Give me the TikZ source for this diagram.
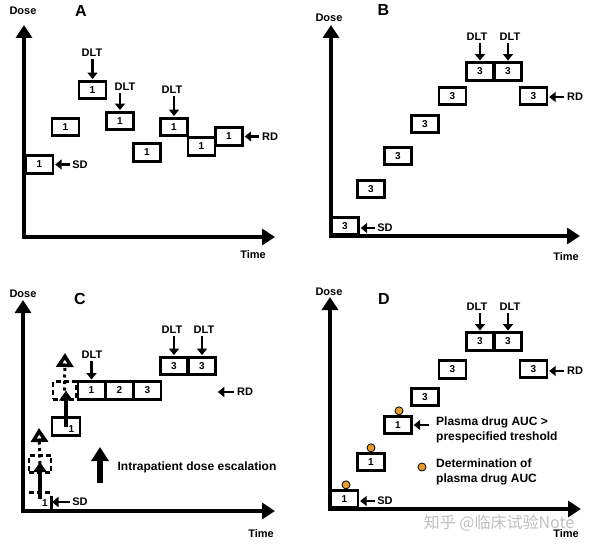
\documentclass[tikz,border=0pt]{standalone}
\usepackage{fontspec}
\setmainfont{Liberation Sans}
\newfontfamily\cjkfont{Noto Sans CJK SC}
\usetikzlibrary{arrows.meta}
\definecolor{aucorange}{HTML}{E99A2C}
\begin{document}
\begin{tikzpicture}[x=1pt,y=-1pt,
  bx/.style={draw, line width=2.8pt, minimum width=27pt, minimum height=17.5pt, inner sep=0pt, font=\fontsize{10}{10}\selectfont\bfseries},
  dbx/.style={bx, dash pattern=on 5pt off 3pt},
  ebx/.style={minimum width=22pt, minimum height=17.5pt, inner sep=0pt},
  lbl/.style={font=\fontsize{11}{12}\selectfont\bfseries, inner sep=1pt},
  panel/.style={font=\fontsize{16}{16}\selectfont\bfseries, inner sep=1pt},
  legtext/.style={font=\fontsize{12}{15}\selectfont\bfseries, inner sep=1pt, align=left, anchor=west},
  axis/.style={line width=4pt, line join=miter, {Triangle[length=13pt,width=16pt]}-{Triangle[length=13pt,width=16pt]}},
  sarrow/.style={line width=2.8pt, -{Triangle[length=6.5pt,width=10pt]}, shorten >=0.8pt, shorten <=1.5pt},
  bigarrow/.style={line width=4.5pt, -{Triangle[length=10pt,width=13pt]}},
  legarrow/.style={line width=6pt, -{Triangle[length=14pt,width=17pt]}},
  dotline/.style={line width=3pt, dash pattern=on 3pt off 3.5pt, -{Triangle[open, length=14pt, width=17pt, line width=4pt]}},
  aucdot/.style={circle, draw, line width=0.8pt, fill=aucorange, minimum size=8pt, inner sep=0pt}
]
\useasboundingbox (0,0) rectangle (600,548);
\fill[white] (0,0) rectangle (600,548);

% ---------------- Panel A ----------------
\coordinate (Ay) at (24,25);
\coordinate (Ax) at (275,237);
\draw[axis] (Ay) |- (Ax);
\node[lbl] (Adose) at (23,11) {Dose};
\node[panel] (Alab) at (81,11) {A};
\node[lbl] (Atime) at (253,255) {Time};
\node[bx] (A1) at (39.5,164.5) {1};
\node[bx] (A2) at (65.5,127) {1};
\node[bx] (A3) at (92.5,90) {1};
\node[bx] (A4) at (120,121) {1};
\node[bx] (A5) at (147,152.5) {1};
\node[bx] (A6) at (174,127) {1};
\node[bx] (A7) at (201.5,146.5) {1};
\node[bx] (A8) at (229,136.5) {1};
\node[lbl] (Adlt1) at (92,53) {DLT};
\node[lbl] (Adlt2) at (125,87) {DLT};
\node[lbl] (Adlt3) at (172,90) {DLT};
\draw[sarrow] (A3.north |- Adlt1.south) -- (A3.north);
\draw[sarrow] (A4.north |- Adlt2.south) -- (A4.north);
\draw[sarrow] (A6.north |- Adlt3.south) -- (A6.north);
\node[lbl] (Asd) at (80,164.5) {SD};
\draw[sarrow] (Asd.west) -- (A1.east);
\node[lbl] (Ard) at (270,136.5) {RD};
\draw[sarrow] (Ard.west) -- (A8.east);

% ---------------- Panel B ----------------
\coordinate (By) at (331,25);
\coordinate (Bx) at (580,236);
\draw[axis] (By) |- (Bx);
\node[lbl] (Bdose) at (329,18) {Dose};
\node[panel] (Blab) at (383.5,10) {B};
\node[lbl] (Btime) at (566,257) {Time};
\node[bx] (B1) at (345,226) {3};
\node[bx] (B2) at (371,189) {3};
\node[bx] (B3) at (398,156) {3};
\node[bx] (B4) at (425,124) {3};
\node[bx] (B5) at (452.5,96) {3};
\node[bx] (B6) at (480,71.5) {3};
\node[bx] (B7) at (508,71.5) {3};
\node[bx] (B8) at (533.5,96) {3};
\node[lbl] (Bdlt1) at (477,37) {DLT};
\node[lbl] (Bdlt2) at (510,37) {DLT};
\draw[sarrow] (B6.north |- Bdlt1.south) -- (B6.north);
\draw[sarrow] (B7.north |- Bdlt2.south) -- (B7.north);
\node[lbl] (Bsd) at (385,228) {SD};
\draw[sarrow] (Bsd.west) -- (Bsd.west -| B1.east);
\node[lbl] (Brd) at (575,97) {RD};
\draw[sarrow] (Brd.west) -- (Brd.west -| B8.east);

% ---------------- Panel C ----------------
\coordinate (Cy) at (23,300);
\coordinate (Cx) at (275,511);
\draw[axis] (Cy) |- (Cx);
\node[lbl] (Cdose) at (23,294) {Dose};
\node[panel] (Clab) at (80,299) {C};
\node[lbl] (Ctime) at (261,534) {Time};
\node[bx] (C1) at (91.5,390.5) {1};
\node[bx] (C2) at (119.5,390.5) {2};
\node[bx] (C3) at (147.5,390.5) {3};
\node[bx] (C4) at (174,366) {3};
\node[bx] (C5) at (202,366) {3};
% intrapatient escalation, upper patient
\node[bx, minimum width=28pt] (Cup) at (66,426.5) {};
\node[font=\fontsize{10}{10}\selectfont\bfseries, inner sep=0pt] (Cupn) at (71.5,429) {1};
\node[dbx, minimum width=23pt] (Cd1) at (64.5,390.5) {};
\coordinate (Cchev1) at (65,353);
\draw[dotline] (Cd1.center) -- (Cchev1);
\draw[bigarrow] (Cup.center) -- (Cup.center |- Cd1.center);
% lower patient
\node[ebx] (Csd) at (40,501.5) {};
\draw[line width=2.8pt, dash pattern=on 5pt off 3pt] (Csd.north west) -- (Csd.north east);
\draw[line width=2.8pt] ([yshift=-3pt]Csd.north east) -- (Csd.south east);
\node[font=\fontsize{10}{10}\selectfont\bfseries, inner sep=0pt] (Csdn) at (45,503) {1};
\node[dbx, minimum width=22pt] (Cd0) at (40,464) {};
\coordinate (Cchev0) at (39,428);
\draw[dotline] (Cd0.center) -- (Cchev0);
\draw[bigarrow] ([yshift=3pt]Csd.center) -- ([yshift=2pt]Cd0.center);
\node[lbl] (Cdlt1) at (92,355) {DLT};
\node[lbl] (Cdlt2) at (172,330) {DLT};
\node[lbl] (Cdlt3) at (204,330) {DLT};
\draw[sarrow] (C1.north |- Cdlt1.south) -- (C1.north);
\draw[sarrow] (C4.north |- Cdlt2.south) -- (C4.north);
\draw[sarrow] (C5.north |- Cdlt3.south) -- (C5.north);
\node[lbl] (Crd) at (245,392) {RD};
\coordinate (Crdtip) at (217,392);
\draw[sarrow] (Crd.west) -- (Crdtip);
\node[lbl] (Csdl) at (80,502) {SD};
\draw[sarrow] (Csdl.west) -- (Csdl.west -| Csd.east);
\coordinate (Cleg0) at (100,483);
\coordinate (Cleg1) at (100,447);
\draw[legarrow] (Cleg0) -- (Cleg1);
\node[legtext, anchor=center] (Cesc) at (197,467) {Intrapatient dose escalation};

% ---------------- Panel D ----------------
\coordinate (Dy) at (330,297);
\coordinate (Dx) at (581,509);
\draw[axis] (Dy) |- (Dx);
\node[lbl] (Ddose) at (329,292) {Dose};
\node[panel] (Dlab) at (384,299) {D};
\node[lbl] (Dtime) at (566,534) {Time};
\node[bx] (D1) at (344.5,499) {1};
\node[bx] (D2) at (371,462) {1};
\node[bx] (D3) at (398,425) {1};
\node[bx] (D4) at (425,397) {3};
\node[bx] (D5) at (452.5,369.5) {3};
\node[bx] (D6) at (480,341.5) {3};
\node[bx] (D7) at (508,341.5) {3};
\node[bx] (D8) at (533.5,369) {3};
\node[aucdot] (D1dot) at ([xshift=1.5pt,yshift=4pt]D1.north) {};
\node[aucdot] (D2dot) at ([yshift=4pt]D2.north) {};
\node[aucdot] (D3dot) at ([xshift=1pt,yshift=4pt]D3.north) {};
\node[lbl] (Ddlt1) at (477,307) {DLT};
\node[lbl] (Ddlt2) at (510,307) {DLT};
\draw[sarrow] (D6.north |- Ddlt1.south) -- (D6.north);
\draw[sarrow] (D7.north |- Ddlt2.south) -- (D7.north);
\node[lbl] (Dsd) at (385,501) {SD};
\draw[sarrow] (Dsd.west) -- (Dsd.west -| D1.east);
\node[lbl] (Drd) at (575,371) {RD};
\draw[sarrow] (Drd.west) -- (Drd.west -| D8.east);
\node[legtext] (Dplasma) at (435,429.5) {Plasma drug AUC >\\prespecified treshold};
\draw[sarrow] ([xshift=-5pt]Dplasma.west |- D3.east) -- (D3.east);
\node[aucdot] (Dlegdot) at (422,467) {};
\node[legtext] (Ddet) at (435,471.5) {Determination of\\plasma drug AUC};

% watermark
\node[text=gray!50, font=\cjkfont\fontsize{16}{16}\selectfont, inner sep=0pt] (wm) at (499,523) {知乎 @临床试验Note};
\end{tikzpicture}
\end{document}
